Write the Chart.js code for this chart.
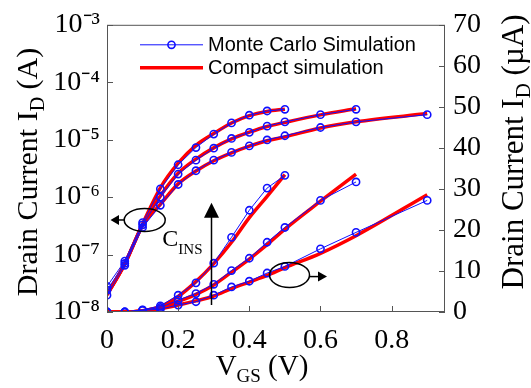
<!DOCTYPE html>
<html><head><meta charset="utf-8">
<script src="https://cdn.jsdelivr.net/npm/chart.js@4"></script>
<style>html,body{margin:0;padding:0;background:#fff;}canvas{display:block;}</style>
</head><body>
<canvas id="c" width="531" height="388"></canvas>
<script>
// ---- data ----
const vgsA = [0, 0.05, 0.1, 0.15, 0.2, 0.25, 0.3, 0.35, 0.4, 0.45, 0.5];
const vgsB = [0, 0.05, 0.1, 0.15, 0.2, 0.25, 0.3, 0.35, 0.4, 0.45, 0.5, 0.6, 0.7];
const vgsC = [0, 0.05, 0.1, 0.15, 0.2, 0.25, 0.3, 0.35, 0.4, 0.45, 0.5, 0.6, 0.7, 0.9];

// Log-scale drain current (A), left axis
const mcLogA  = [2.8e-8, 7.7e-8, 3.6e-7, 1.39e-6, 3.66e-6, 7.3e-6, 1.25e-5, 1.96e-5, 2.67e-5, 3.16e-5, 3.38e-5];
const mcLogB  = [2.4e-8, 7.0e-8, 3.3e-7, 1.0e-6, 2.52e-6, 4.4e-6, 7.1e-6, 1.05e-5, 1.34e-5, 1.72e-5, 2.04e-5, 2.73e-5, 3.38e-5];
const mcLogC  = [1.96e-8, 6.5e-8, 2.96e-7, 7.2e-7, 1.66e-6, 2.88e-6, 4.4e-6, 6.0e-6, 7.8e-6, 9.9e-6, 1.17e-5, 1.63e-5, 2.04e-5, 2.73e-5];
const cmLogA  = [2.0e-8, 7.0e-8, 3.4e-7, 1.45e-6, 3.9e-6, 8.0e-6, 1.28e-5, 1.95e-5, 2.62e-5, 3.1e-5, 3.4e-5];
const cmLogB  = [2.0e-8, 6.9e-8, 3.3e-7, 1.05e-6, 2.6e-6, 4.6e-6, 7.2e-6, 1.03e-5, 1.35e-5, 1.7e-5, 2.0e-5, 2.7e-5, 3.45e-5];
const cmLogC  = [2.0e-8, 6.8e-8, 3.2e-7, 7.5e-7, 1.7e-6, 2.85e-6, 4.3e-6, 5.9e-6, 7.7e-6, 9.6e-6, 1.12e-5, 1.6e-5, 2.05e-5, 2.85e-5];

// Linear drain current (uA), right axis
const mcLinA = [0, 0, 0.5, 1.5, 4.1, 7.1, 11.9, 18.2, 24.8, 30.2, 33.3];
const mcLinB = [0, 0, 0.45, 1.1, 2.9, 4.5, 6.75, 10.1, 13.1, 17.0, 20.6, 27.2, 31.7];
const mcLinC = [0, 0, 0.4, 0.7, 1.7, 2.5, 4.1, 6.1, 7.5, 9.5, 11.1, 15.4, 19.4, 27.2];
const cmLinA = [0, 0, 0.3, 1.3, 3.8, 7.4, 11.8, 17.0, 23.0, 28.2, 33.5];
const cmLinB = [0, 0, 0.3, 1.1, 2.6, 4.3, 6.6, 9.7, 12.9, 16.4, 20.2, 27.0, 33.6];
const cmLinC = [0, 0, 0.2, 0.8, 1.7, 2.7, 3.9, 5.7, 7.3, 8.9, 10.8, 14.3, 18.6, 28.6];

// ticks / labels
const xTicks = [0, 0.2, 0.4, 0.6, 0.8];
const xTickLabels = ['0', '0.2', '0.4', '0.6', '0.8'];
const logTicks = [1e-8, 1e-7, 1e-6, 1e-5, 1e-4, 1e-3];
const logTickLabels = ['10\u207B\u2078', '10\u207B\u2077', '10\u207B\u2076', '10\u207B\u2075', '10\u207B\u2074', '10\u207B\u00B3'];
const linTicks = [0, 10, 20, 30, 40, 50, 60, 70];
const legendLabels = ['Monte Carlo Simulation', 'Compact simulation'];

// annotation anchors (data units)
const leftEllipse = {x: 0.106, y: 4.0e-7};
const rightEllipse = {x: 0.513, y: 9.0};
const cinsArrow = {x: 0.292, y0: 1.7, y1: 26.6, textY: 16.2};

const BLUE = '#1010ff', RED = '#ff0000';
const SERIF = '"Liberation Serif", "Times New Roman", serif';
const SANS = '"Liberation Sans", Arial, sans-serif';

function pts(xs, ys) { return xs.map((x, i) => ({x: x, y: ys[i]})); }
function mc(xs, ys, axis) {
  return {data: pts(xs, ys), yAxisID: axis, borderColor: BLUE, borderWidth: 1, tension: 0,
    pointRadius: 3.6, pointBorderWidth: 1.6, pointBorderColor: BLUE, pointBackgroundColor: 'rgba(0,0,0,0)', order: 0};
}
function cm(xs, ys, axis) {
  return {data: pts(xs, ys), yAxisID: axis, borderColor: RED, borderWidth: 3.5, pointRadius: 0,
    cubicInterpolationMode: 'monotone', order: 1};
}

function richText(ctx, parts, x, y) {
  let total = 0;
  parts.forEach(p => { ctx.font = p[1] + 'px ' + SERIF; total += ctx.measureText(p[0]).width; });
  let cx = x - total / 2;
  ctx.textAlign = 'left'; ctx.textBaseline = 'alphabetic';
  parts.forEach(p => { ctx.font = p[1] + 'px ' + SERIF; ctx.fillText(p[0], cx, y + (p[2] || 0)); cx += ctx.measureText(p[0]).width; });
}

const overlay = {
  id: 'overlay',
  afterDatasetsDraw(chart) {
    const {ctx, chartArea: a} = chart;
    const sx = chart.scales.x, sy = chart.scales.y, sy2 = chart.scales.y2;
    ctx.save();
    ctx.strokeStyle = '#555'; ctx.lineWidth = 1;
    ctx.strokeRect(a.left + 0.5, a.top + 0.5, a.right - a.left - 1, a.bottom - a.top - 1);
    ctx.beginPath();
    xTicks.forEach(v => { const p = Math.round(sx.getPixelForValue(v)) + 0.5; ctx.moveTo(p, a.bottom); ctx.lineTo(p, a.bottom - 6); });
    logTicks.forEach(v => { const p = Math.round(sy.getPixelForValue(v)) + 0.5; ctx.moveTo(a.left, p); ctx.lineTo(a.left + 6, p); });
    linTicks.forEach(v => { const p = Math.round(sy2.getPixelForValue(v)) + 0.5; ctx.moveTo(a.right, p); ctx.lineTo(a.right - 6, p); });
    ctx.stroke();

    // annotations
    ctx.strokeStyle = '#000'; ctx.fillStyle = '#000'; ctx.lineWidth = 1.5;
    let ex = sx.getPixelForValue(leftEllipse.x), ey = sy.getPixelForValue(leftEllipse.y);
    ctx.beginPath(); ctx.ellipse(ex, ey, 20.5, 11.5, 0, 0, Math.PI * 2); ctx.stroke();
    ctx.beginPath(); ctx.moveTo(ex - 20.5, ey); ctx.lineTo(a.left + 11, ey); ctx.stroke();
    ctx.beginPath(); ctx.moveTo(a.left + 3.5, ey); ctx.lineTo(a.left + 12, ey - 5); ctx.lineTo(a.left + 12, ey + 5); ctx.closePath(); ctx.fill();
    ex = sx.getPixelForValue(rightEllipse.x); ey = sy2.getPixelForValue(rightEllipse.y);
    ctx.beginPath(); ctx.ellipse(ex, ey, 20, 12.5, 0, 0, Math.PI * 2); ctx.stroke();
    ctx.beginPath(); ctx.moveTo(ex + 20, ey + 1.5); ctx.lineTo(ex + 29, ey + 1.5); ctx.stroke();
    ctx.beginPath(); ctx.moveTo(ex + 37.5, ey + 1.5); ctx.lineTo(ex + 28.5, ey - 3.5); ctx.lineTo(ex + 28.5, ey + 6.5); ctx.closePath(); ctx.fill();
    const ax = Math.round(sx.getPixelForValue(cinsArrow.x)) + 0.5;
    const ay0 = sy2.getPixelForValue(cinsArrow.y0), ay1 = sy2.getPixelForValue(cinsArrow.y1);
    ctx.beginPath(); ctx.moveTo(ax, ay0); ctx.lineTo(ax, ay1 + 14); ctx.stroke();
    ctx.beginPath(); ctx.moveTo(ax, ay1); ctx.lineTo(ax - 7.5, ay1 + 15); ctx.lineTo(ax + 7.5, ay1 + 15); ctx.closePath(); ctx.fill();
    const ty = sy2.getPixelForValue(cinsArrow.textY);
    ctx.font = '24px ' + SERIF; ctx.textBaseline = 'alphabetic'; ctx.textAlign = 'left';
    const wC = ctx.measureText('C').width; ctx.font = '15px ' + SERIF; const wI = ctx.measureText('INS').width;
    const tx = ax - 9 - wC - wI;
    ctx.font = '24px ' + SERIF; ctx.fillText('C', tx, ty);
    ctx.font = '15px ' + SERIF; ctx.fillText('INS', tx + wC, ty + 8);
    ctx.restore();
  },
  afterDraw(chart) {
    const {ctx, chartArea: a} = chart;
    ctx.save();
    ctx.fillStyle = '#000';
    const lx0 = a.left + 33, lx1 = a.left + 96, r1 = a.top + 20, r2 = a.top + 43;
    ctx.strokeStyle = BLUE; ctx.lineWidth = 1;
    ctx.beginPath(); ctx.moveTo(lx0, r1); ctx.lineTo(lx1, r1); ctx.stroke();
    ctx.lineWidth = 1.6; ctx.beginPath(); ctx.arc((lx0 + lx1) / 2, r1, 3.6, 0, Math.PI * 2); ctx.stroke();
    ctx.strokeStyle = RED; ctx.lineWidth = 3.5;
    ctx.beginPath(); ctx.moveTo(lx0, r2); ctx.lineTo(lx1, r2); ctx.stroke();
    ctx.font = '20px ' + SANS; ctx.textAlign = 'left'; ctx.textBaseline = 'middle';
    ctx.fillText(legendLabels[0], lx1 + 5, r1 + 1);
    ctx.fillText(legendLabels[1], lx1 + 5, r2 + 1);

    ctx.save(); ctx.translate(37, 172); ctx.rotate(-Math.PI / 2);
    richText(ctx, [['Drain Current I', 30], ['D', 20, 7], [' (A)', 30]], 0, 0);
    ctx.restore();
    ctx.save(); ctx.translate(523, 152); ctx.rotate(-Math.PI / 2);
    richText(ctx, [['Drain Current I', 31], ['D', 21, 7], [' (\u00B5A)', 31]], 0, 0);
    ctx.restore();
    richText(ctx, [['V', 29], ['GS', 19, 7], [' (V)', 29]], 262, 375);
    ctx.restore();
  }
};

new Chart(document.getElementById('c'), {
  type: 'line',
  data: {
    datasets: [
      mc(vgsA, mcLogA, 'y'), mc(vgsB, mcLogB, 'y'), mc(vgsC, mcLogC, 'y'),
      mc(vgsA, mcLinA, 'y2'), mc(vgsB, mcLinB, 'y2'), mc(vgsC, mcLinC, 'y2'),
      cm(vgsA, cmLogA, 'y'), cm(vgsB, cmLogB, 'y'), cm(vgsC, cmLogC, 'y'),
      cm(vgsA, cmLinA, 'y2'), cm(vgsB, cmLinB, 'y2'), cm(vgsC, cmLinC, 'y2')
    ]
  },
  options: {
    responsive: false, animation: false,
    layout: {padding: {top: 22, left: 0, right: 0, bottom: 0}},
    plugins: {legend: {display: false}, tooltip: {enabled: false}},
    scales: {
      x: {type: 'linear', position: 'bottom', min: 0, max: 0.95,
        afterFit: s => { s.height = 76; },
        afterBuildTicks: s => { s.ticks = xTicks.map(v => ({value: v})); },
        ticks: {font: {family: SERIF, size: 28}, color: '#000', padding: 12, maxRotation: 0, autoSkip: false,
          callback: (v) => xTickLabels[xTicks.indexOf(v)] ?? ''},
        grid: {display: false, drawTicks: false}, border: {display: false}},
      y: {type: 'logarithmic', position: 'left', min: 1e-8, max: 1e-3,
        afterFit: s => { s.width = 107; },
        afterBuildTicks: s => { s.ticks = logTicks.map(v => ({value: v, major: true})); },
        ticks: {font: {family: SERIF, size: 28}, color: '#000', padding: 7, autoSkip: false,
          callback: (v) => { const i = logTicks.findIndex(t => Math.abs(Math.log10(t) - Math.log10(v)) < 1e-6); return i >= 0 ? logTickLabels[i] : ''; }},
        grid: {display: false, drawTicks: false}, border: {display: false}},
      y2: {type: 'linear', position: 'right', min: 0, max: 70,
        afterFit: s => { s.width = 86; },
        afterBuildTicks: s => { s.ticks = linTicks.map(v => ({value: v})); },
        ticks: {font: {family: SERIF, size: 28}, color: '#000', padding: 8, autoSkip: false},
        grid: {display: false, drawTicks: false}, border: {display: false}}
    }
  },
  plugins: [overlay]
});
</script>
</body></html>
